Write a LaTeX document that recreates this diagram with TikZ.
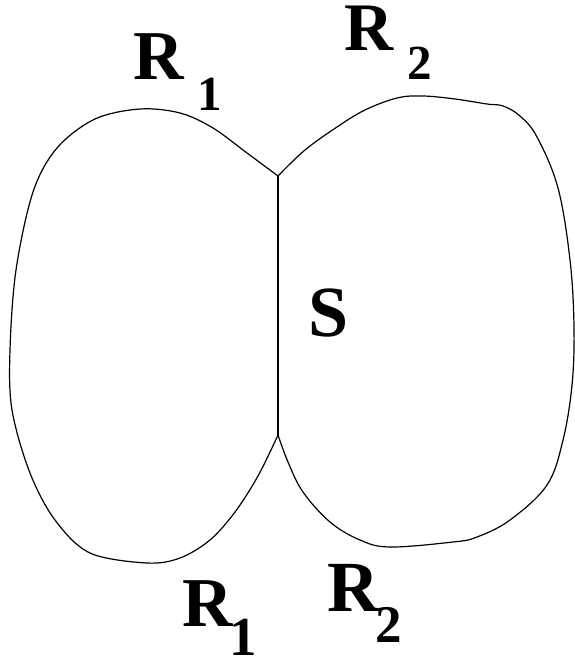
\documentclass[tikz,border=0pt]{standalone}
\usepackage{fontspec}
\setmainfont{Liberation Serif}
\begin{document}
\begin{tikzpicture}[x=1pt,y=-1pt,
  outline/.style={line width=1.2pt,line join=round,line cap=round},
  lbl/.style={inner sep=0pt,font=\bfseries}]
\useasboundingbox (0,0) rectangle (574,666);
\coordinate (jt) at (278,176);
\coordinate (jb) at (278,435);
% left region
\draw[outline] plot[smooth,tension=0.55] coordinates {
 (278,176) (247,153) (213,128) (180,113) (140,109) (95,119) (57,148)
 (33,192) (16,270) (10,350) (12,410) (30,473) (55,520) (90,553)
 (147,563) (180,558) (210,540) (235,512) (258,476) (278,435)};
% right region
\draw[outline] plot[smooth,tension=0.6] coordinates {
 (278,176) (305,150) (337,127) (365,110) (397,98) (423,96) (455,99)
 (487,104) (503,106) (520,116) (537,137) (558,188) (570,260)
 (574,327) (572,385) (563,440) (547,485) (510,520) (477,537)
 (453,542) (390,547) (360,540) (330,522) (303,492) (288,462) (278,435)};
% separator S
\draw[outline] (jt) -- (jb);
% labels
\node[lbl,font=\fontsize{70}{70}\bfseries] (r1t) at (159,57) {R};
\node[lbl,font=\fontsize{49}{49}\bfseries] (s1t) at (210,94) {1};
\node[lbl,font=\fontsize{68}{68}\bfseries] (r2t) at (369,28) {R};
\node[lbl,font=\fontsize{49}{49}\bfseries] (s2t) at (420,63) {2};
\node[lbl,font=\fontsize{72}{72}\bfseries] (sl) at (329,313) {S};
\node[lbl,font=\fontsize{70}{70}\bfseries] (r1b) at (208,604) {R};
\node[lbl,font=\fontsize{55}{55}\bfseries] (s1b) at (243,637) {1};
\node[lbl,font=\fontsize{72}{72}\bfseries] (r2b) at (353,588) {R};
\node[lbl,font=\fontsize{53}{53}\bfseries] (s2b) at (389,625) {2};
\end{tikzpicture}
\end{document}
